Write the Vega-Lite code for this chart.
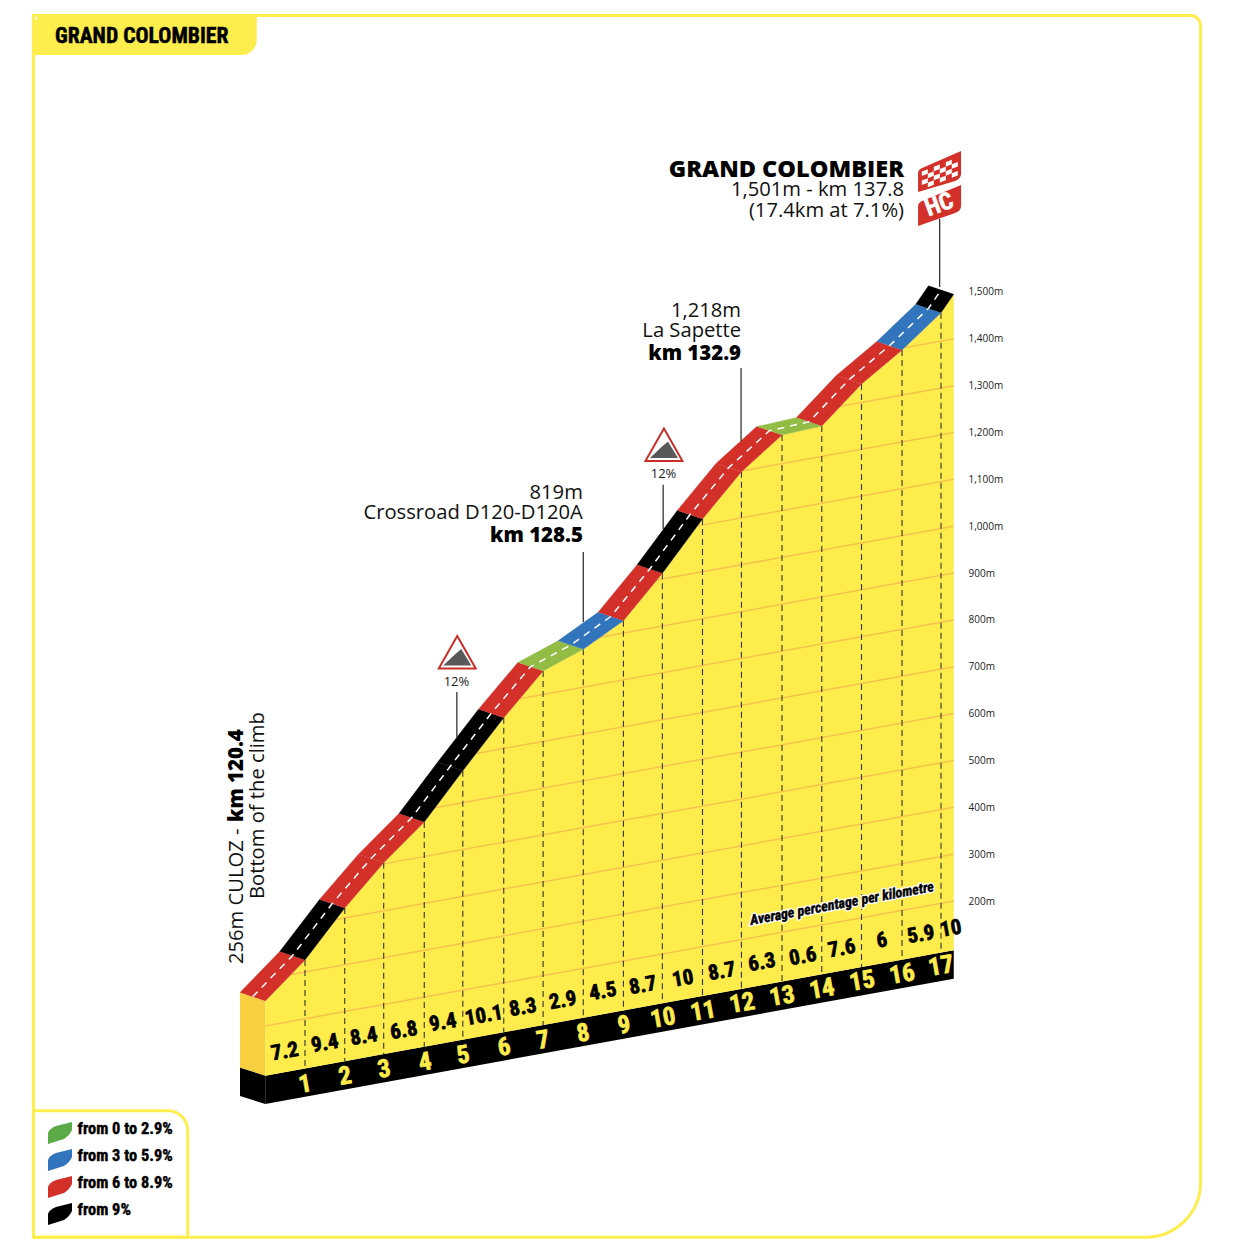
{
"$schema":"https://vega.github.io/schema/vega-lite/v6.json",
"autosize":{"type":"fit","contains":"padding"},
"width":1234,"height":1252,"padding":0,
"background":"white",
"config":{"view":{"stroke":null},"text":{"font":"Open Sans"}},
"resolve":{"scale":{"fill":"independent"}},
"datasets":{
"ridge":[
{"k":0,"m":-13.4,"m2":-172.9,"t":0},{"k":1,"m":74.1,"m2":-157.4,"t":1},{"k":2,"m":185.1,"m2":-142,"t":2},{"k":2.98,"m":281.8,"m2":-126.8,"t":3},{"k":4,"m":368.6,"m2":-111,"t":4},{"k":4.97,"m":478.2,"m2":-96,"t":5},{"k":6,"m":591.3,"m2":-80.1,"t":6},{"k":6.99,"m":691,"m2":-64.8,"t":7},{"k":8,"m":737.3,"m2":-49.2,"t":8},{"k":9.01,"m":798.3,"m2":-33.6,"t":9},{"k":9.99,"m":899.5,"m2":-18.5,"t":10},{"k":11,"m":1015.4,"m2":-2.8,"t":11},{"k":11.98,"m":1116.3,"m2":12.3,"t":12},{"k":13,"m":1194.7,"m2":28.1,"t":13},{"k":14,"m":1213.9,"m2":43.5,"t":14},{"k":15,"m":1303.6,"m2":59,"t":15},{"k":16.02,"m":1376.1,"m2":74.8,"t":16},{"k":17,"m":1455.7,"m2":89.9,"t":17},{"k":17.32,"m":1495,"m2":94.9,"t":0}
],
"road":[
{"s":0,"c":"6-8.9","o":1,"k":0,"m":-13.4},{"s":0,"c":"6-8.9","o":2,"k":1,"m":74.1},{"s":0,"c":"6-8.9","o":3,"k":0.365,"m":92.1},{"s":0,"c":"6-8.9","o":4,"k":-0.635,"m":4.6},
{"s":1,"c":"9+","o":1,"k":1,"m":74.1},{"s":1,"c":"9+","o":2,"k":2,"m":185.1},{"s":1,"c":"9+","o":3,"k":1.365,"m":203.1},{"s":1,"c":"9+","o":4,"k":0.365,"m":92.1},
{"s":2,"c":"6-8.9","o":1,"k":2,"m":185.1},{"s":2,"c":"6-8.9","o":2,"k":2.98,"m":281.8},{"s":2,"c":"6-8.9","o":3,"k":2.345,"m":299.8},{"s":2,"c":"6-8.9","o":4,"k":1.365,"m":203.1},
{"s":3,"c":"6-8.9","o":1,"k":2.98,"m":281.8},{"s":3,"c":"6-8.9","o":2,"k":4,"m":368.6},{"s":3,"c":"6-8.9","o":3,"k":3.365,"m":386.6},{"s":3,"c":"6-8.9","o":4,"k":2.345,"m":299.8},
{"s":4,"c":"9+","o":1,"k":4,"m":368.6},{"s":4,"c":"9+","o":2,"k":4.97,"m":478.2},{"s":4,"c":"9+","o":3,"k":4.335,"m":496.2},{"s":4,"c":"9+","o":4,"k":3.365,"m":386.6},
{"s":5,"c":"9+","o":1,"k":4.97,"m":478.2},{"s":5,"c":"9+","o":2,"k":6,"m":591.3},{"s":5,"c":"9+","o":3,"k":5.365,"m":609.3},{"s":5,"c":"9+","o":4,"k":4.335,"m":496.2},
{"s":6,"c":"6-8.9","o":1,"k":6,"m":591.3},{"s":6,"c":"6-8.9","o":2,"k":6.99,"m":691},{"s":6,"c":"6-8.9","o":3,"k":6.355,"m":709},{"s":6,"c":"6-8.9","o":4,"k":5.365,"m":609.3},
{"s":7,"c":"0-2.9","o":1,"k":6.99,"m":691},{"s":7,"c":"0-2.9","o":2,"k":8,"m":737.3},{"s":7,"c":"0-2.9","o":3,"k":7.365,"m":755.3},{"s":7,"c":"0-2.9","o":4,"k":6.355,"m":709},
{"s":8,"c":"3-5.9","o":1,"k":8,"m":737.3},{"s":8,"c":"3-5.9","o":2,"k":9.01,"m":798.3},{"s":8,"c":"3-5.9","o":3,"k":8.375,"m":816.3},{"s":8,"c":"3-5.9","o":4,"k":7.365,"m":755.3},
{"s":9,"c":"6-8.9","o":1,"k":9.01,"m":798.3},{"s":9,"c":"6-8.9","o":2,"k":9.99,"m":899.5},{"s":9,"c":"6-8.9","o":3,"k":9.355,"m":917.5},{"s":9,"c":"6-8.9","o":4,"k":8.375,"m":816.3},
{"s":10,"c":"9+","o":1,"k":9.99,"m":899.5},{"s":10,"c":"9+","o":2,"k":11,"m":1015.4},{"s":10,"c":"9+","o":3,"k":10.365,"m":1033.4},{"s":10,"c":"9+","o":4,"k":9.355,"m":917.5},
{"s":11,"c":"6-8.9","o":1,"k":11,"m":1015.4},{"s":11,"c":"6-8.9","o":2,"k":11.98,"m":1116.3},{"s":11,"c":"6-8.9","o":3,"k":11.345,"m":1134.3},{"s":11,"c":"6-8.9","o":4,"k":10.365,"m":1033.4},
{"s":12,"c":"6-8.9","o":1,"k":11.98,"m":1116.3},{"s":12,"c":"6-8.9","o":2,"k":13,"m":1194.7},{"s":12,"c":"6-8.9","o":3,"k":12.365,"m":1212.7},{"s":12,"c":"6-8.9","o":4,"k":11.345,"m":1134.3},
{"s":13,"c":"0-2.9","o":1,"k":13,"m":1194.7},{"s":13,"c":"0-2.9","o":2,"k":14,"m":1213.9},{"s":13,"c":"0-2.9","o":3,"k":13.365,"m":1231.9},{"s":13,"c":"0-2.9","o":4,"k":12.365,"m":1212.7},
{"s":14,"c":"6-8.9","o":1,"k":14,"m":1213.9},{"s":14,"c":"6-8.9","o":2,"k":15,"m":1303.6},{"s":14,"c":"6-8.9","o":3,"k":14.365,"m":1321.6},{"s":14,"c":"6-8.9","o":4,"k":13.365,"m":1231.9},
{"s":15,"c":"6-8.9","o":1,"k":15,"m":1303.6},{"s":15,"c":"6-8.9","o":2,"k":16.02,"m":1376.1},{"s":15,"c":"6-8.9","o":3,"k":15.385,"m":1394.1},{"s":15,"c":"6-8.9","o":4,"k":14.365,"m":1321.6},
{"s":16,"c":"3-5.9","o":1,"k":16.02,"m":1376.1},{"s":16,"c":"3-5.9","o":2,"k":17,"m":1455.7},{"s":16,"c":"3-5.9","o":3,"k":16.365,"m":1473.7},{"s":16,"c":"3-5.9","o":4,"k":15.385,"m":1394.1},
{"s":17,"c":"9+","o":1,"k":17,"m":1455.7},{"s":17,"c":"9+","o":2,"k":17.32,"m":1495},{"s":17,"c":"9+","o":3,"k":16.685,"m":1513},{"s":17,"c":"9+","o":4,"k":16.365,"m":1473.7}
]
},
"encoding":{
"x":{"field":"k","type":"quantitative","scale":{"domain":[-6.673,24.371],"nice":false,"zero":false},"axis":null},
"y":{"field":"m","type":"quantitative","scale":{"domain":[-549.2,2123.2],"nice":false,"zero":false},
"axis":{"orient":"right","offset":-266,"title":null,"grid":false,"domain":false,"ticks":false,"labelPadding":0,"labelFontSize":10,"labelFont":"Open Sans","labelColor":"#222","values":[200,300,400,500,600,700,800,900,1000,1100,1200,1300,1400,1500],"labelExpr":"format(datum.value,',')+'m'"}}
},
"layer":[
{"data":{"values":[{"k":-5.83,"k2":23.53,"m":2090.1,"m2":-517.8}]},
 "mark":{"type":"rect","fill":"#ffffff","fillOpacity":0,"stroke":"#FDEE4E","strokeWidth":3,"cornerRadiusTopRight":10,"cornerRadiusBottomRight":55},
 "encoding":{"x2":{"field":"k2"},"y2":{"field":"m2"}}},
{"data":{"values":[{"k":-5.83,"k2":-1.95,"m":-247.6,"m2":-517.8}]},
 "mark":{"type":"rect","fill":"#ffffff","fillOpacity":0,"stroke":"#FDEE4E","strokeWidth":3,"cornerRadiusTopRight":20},
 "encoding":{"x2":{"field":"k2"},"y2":{"field":"m2"}}},
{"data":{"values":[{"k":-5.86,"k2":-0.215,"m":2093.3,"m2":2005.8}]},
 "mark":{"type":"rect","fill":"#FDEE4E","cornerRadiusTopLeft":15,"cornerRadiusBottomRight":15},
 "encoding":{"x2":{"field":"k2"},"y2":{"field":"m2"}}},
{"data":{"values":[{"k":-5.29,"m":2031.4,"label":"GRAND COLOMBIER"}]},
 "mark":{"type":"text","font":"Roboto Condensed, Open Sans Condensed, DejaVu Sans Condensed, Roboto","fontWeight":"bold","fontSize":21.7,"align":"left","baseline":"alphabetic","color":"#000","stroke":"#000","strokeWidth":0.5},
 "encoding":{"text":{"field":"label"}}},
{"data":{"values":[{"k":-0.635,"m":4.6,"m2":-155.8},{"k":0,"m":-13.4,"m2":-172.9}]},
 "mark":{"type":"area","color":"#F9CF42"},"encoding":{"y2":{"field":"m2"}}},
{"data":{"values":[{"k":-0.635,"m":-155.8,"m2":-216.2},{"k":0,"m":-172.9,"m2":-233.3}]},
 "mark":{"type":"area","color":"#000"},"encoding":{"y2":{"field":"m2"}}},
{"data":{"values":[{"k":0,"m":-172.9,"m2":-233.3},{"k":17.32,"m":94.8,"m2":34.1}]},
 "mark":{"type":"area","color":"#000"},"encoding":{"y2":{"field":"m2"}}},
{"data":{"name":"ridge"},"mark":{"type":"area","color":"#FDEC4C"},"encoding":{"y2":{"field":"m2"}}},
{"data":{"values":[
{"k":0,"m":-66.7,"k2":17.32,"m2":200},{"k":0.648,"m":43.3,"k2":17.32,"m2":300},{"k":1.78,"m":160.7,"k2":17.32,"m2":400},{"k":2.948,"m":278.7,"k2":17.32,"m2":500},{"k":4.27,"m":399.1,"k2":17.32,"m2":600},{"k":5.305,"m":515,"k2":17.32,"m2":700},{"k":6.403,"m":631.9,"k2":17.32,"m2":800},{"k":8.427,"m":763.1,"k2":17.32,"m2":900},{"k":9.849,"m":885,"k2":17.32,"m2":1000},{"k":10.87,"m":1000.7,"k2":17.32,"m2":1100},{"k":11.98,"m":1117.8,"k2":17.32,"m2":1200},{"k":14.47,"m":1256,"k2":17.32,"m2":1300},{"k":16.08,"m":1380.9,"k2":17.32,"m2":1400}
]},
 "mark":{"type":"rule","stroke":"#F7C24E","strokeWidth":1.5},
 "encoding":{"x2":{"field":"k2"},"y2":{"field":"m2"}}},
{"data":{"name":"ridge"},"transform":[{"filter":"datum.t>0"}],
 "mark":{"type":"rule","stroke":"#333","strokeWidth":1.1,"strokeDash":[6,4]},
 "encoding":{"y2":{"field":"m2"}}},
{"data":{"name":"road"},
 "mark":{"type":"line","filled":true,"strokeWidth":0.4,"fillOpacity":1},
 "encoding":{
  "detail":{"field":"s"},
  "order":{"field":"o","type":"quantitative"},
  "fill":{"field":"c","type":"nominal","legend":null,"scale":{"domain":["0-2.9","3-5.9","6-8.9","9+"],"range":["#93BC46","#3275BC","#D3302A","#000000"]}},
  "stroke":{"field":"c","type":"nominal","legend":null,"scale":{"domain":["0-2.9","3-5.9","6-8.9","9+"],"range":["#93BC46","#3275BC","#D3302A","#000000"]}}
 }},
{"data":{"values":[
{"k":-0.318,"m":-4.4},{"k":0.682,"m":83.1},{"k":1.682,"m":194.1},{"k":2.662,"m":290.8},{"k":3.682,"m":377.6},{"k":4.652,"m":487.2},{"k":5.682,"m":600.3},{"k":6.672,"m":700},{"k":7.682,"m":746.3},{"k":8.692,"m":807.3},{"k":9.672,"m":908.5},{"k":10.682,"m":1024.4},{"k":11.662,"m":1125.3},{"k":12.682,"m":1203.7},{"k":13.682,"m":1222.9},{"k":14.682,"m":1312.6},{"k":15.702,"m":1385.1},{"k":16.682,"m":1464.7},{"k":17.002,"m":1504}
]},
 "mark":{"type":"line","stroke":"#ffffff","strokeWidth":1.5,"strokeDash":[7,6]}},
{"data":{"values":[
{"k":16.967,"m":1655.7,"m2":1510.6},{"k":11.97,"m":1337.7,"m2":1181.9},{"k":8.0,"m":945,"m2":795.5},{"k":4.82,"m":646.1,"m2":550},{"k":10.01,"m":1088.6,"m2":994}
]},
 "mark":{"type":"rule","stroke":"#222","strokeWidth":1.2},"encoding":{"y2":{"field":"m2"}}},
{"data":{"values":[{"k":4.83,"m":731.7},{"k":10.03,"m":1174.4}]},
 "mark":{"type":"point","filled":true,"size":4,"opacity":1,"fill":"#ffffff","stroke":"#C93028","strokeWidth":2,"shape":"M0,-16L18.5,16.5L-18.5,16.5Z"}},
{"data":{"values":[{"k":4.83,"m":731.7},{"k":10.03,"m":1174.4}]},
 "mark":{"type":"point","filled":true,"size":4,"opacity":1,"fill":"#595959","strokeWidth":0,"shape":"M4,-3L14,13.5L-14,13.5L-3,3Z"}},
{"data":{"values":[{"k":16.977,"m":1758.2}]},
 "mark":{"type":"point","filled":true,"size":4,"opacity":1,"fill":"#D3302A","strokeWidth":0,"shape":"M-22,21L-22,2Q-22,-1 -18,-3L21,-20L21,3Q21,7 15,10Z"}},
{"data":{"values":[{"k":16.977,"m":1758.2}]},
 "mark":{"type":"point","filled":true,"size":4,"opacity":1,"fill":"#ffffff","strokeWidth":0,"shape":"M-18.3,0.5l6,-2.34v4.5l-6,2.34zM-6.3,-4.18l6,-2.34v4.5l-6,2.34zM5.7,-8.86l6,-2.34v4.5l-6,2.34zM-12.3,2.66l6,-2.34v4.5l-6,2.34zM-0.3,-2.02l6,-2.34v4.5l-6,2.34zM11.7,-6.7l6,-2.34v4.5l-6,2.34zM-18.3,9.5l6,-2.34v4.5l-6,2.34zM-6.3,4.82l6,-2.34v4.5l-6,2.34zM5.7,0.14l6,-2.34v4.5l-6,2.34zM-12.3,11.66l6,-2.34v4.5l-6,2.34zM-0.3,6.98l6,-2.34v4.5l-6,2.34zM11.7,2.3l6,-2.34v4.5l-6,2.34z"}},
{"data":{"values":[{"k":16.977,"m":1685.6}]},
 "mark":{"type":"point","filled":true,"size":4,"opacity":1,"fill":"#D3302A","strokeWidth":0,"shape":"M-22,21L-22,1Q-22,-2 -18,-4L21,-20L21,1Q21,6 15,8Z"}},
{"data":{"values":[{"k":16.96,"m":1685.6,"label":"HC"}]},
 "mark":{"type":"text","font":"Roboto Condensed, Open Sans Condensed, DejaVu Sans Condensed, Roboto","fontWeight":"bold","fontSize":24,"color":"#fff","stroke":"#fff","strokeWidth":0.5,"angle":340,"align":"center","baseline":"middle"},
 "encoding":{"text":{"field":"label"}}},
{"data":{"values":[{"k":16.07,"m":1745.4,"label":"GRAND COLOMBIER"}]},
 "mark":{"type":"text","fontSize":23.5,"fontWeight":800,"align":"right","baseline":"alphabetic","color":"#000"},
 "encoding":{"text":{"field":"label"}}},
{"data":{"values":[{"k":11.97,"m":1354.8,"label":"km 132.9"},{"k":7.99,"m":966.3,"label":"km 128.5"}]},
 "mark":{"type":"text","fontSize":20.4,"fontWeight":800,"align":"right","baseline":"alphabetic","color":"#000"},
 "encoding":{"text":{"field":"label"}}},
{"data":{"values":[{"k":16.07,"m":1704.8,"label":"1,501m - km 137.8"},{"k":16.07,"m":1660,"label":"(17.4km at 7.1%)"},{"k":11.97,"m":1446.6,"label":"1,218m"},{"k":11.97,"m":1403.9,"label":"La Sapette"},{"k":7.99,"m":1058.1,"label":"819m"},{"k":7.99,"m":1015.4,"label":"Crossroad D120-D120A"}]},
 "mark":{"type":"text","fontSize":20.2,"align":"right","baseline":"alphabetic","color":"#111"},
 "encoding":{"text":{"field":"label"}}},
{"data":{"values":[{"k":-0.56,"m":65.5,"label":"256m CULOZ -"},{"k":-0.03,"m":204.3,"label":"Bottom of the climb"}]},
 "mark":{"type":"text","fontSize":20.2,"angle":270,"align":"left","baseline":"alphabetic","color":"#111"},
 "encoding":{"text":{"field":"label"}}},
{"data":{"values":[{"k":-0.56,"m":368.6,"label":"km 120.4"}]},
 "mark":{"type":"text","fontSize":20.4,"fontWeight":800,"angle":270,"align":"left","baseline":"alphabetic","color":"#000"},
 "encoding":{"text":{"field":"label"}}},
{"data":{"values":[{"k":4.81,"m":658.9,"label":"12%"},{"k":10.02,"m":1102.9,"label":"12%"}]},
 "mark":{"type":"text","fontSize":13,"align":"center","baseline":"alphabetic","color":"#222"},
 "encoding":{"text":{"field":"label"}}},
{"data":{"values":[
{"k":0.497,"m":-122.3,"label":"7.2"},{"k":1.503,"m":-105.2,"label":"9.4"},{"k":2.484,"m":-90.3,"label":"8.4"},{"k":3.491,"m":-77.5,"label":"6.8"},{"k":4.472,"m":-60.4,"label":"9.4"},{"k":5.503,"m":-45.5,"label":"10.1"},{"k":6.484,"m":-28.4,"label":"8.3"},{"k":7.491,"m":-13.4,"label":"2.9"},{"k":8.497,"m":5.8,"label":"4.5"},{"k":9.503,"m":18.6,"label":"8.7"},{"k":10.509,"m":33.5,"label":"10"},{"k":11.491,"m":48.5,"label":"8.7"},{"k":12.497,"m":67.7,"label":"6.3"},{"k":13.528,"m":80.5,"label":"0.6"},{"k":14.509,"m":97.6,"label":"7.6"},{"k":15.516,"m":114.6,"label":"6"},{"k":16.497,"m":127.4,"label":"5.9"},{"k":17.252,"m":140.3,"label":"10"}
]},
 "mark":{"type":"text","font":"Roboto Condensed, Open Sans Condensed, DejaVu Sans Condensed, Roboto","fontWeight":"bold","fontSize":21,"angle":350,"align":"center","baseline":"middle","color":"#000","stroke":"#000","strokeWidth":0.7},
 "encoding":{"text":{"field":"label"}}},
{"data":{"values":[
{"k":1.0,"m":-190.6,"label":"1"},{"k":2.006,"m":-173.5,"label":"2"},{"k":2.987,"m":-158.6,"label":"3"},{"k":4.019,"m":-143.6,"label":"4"},{"k":4.975,"m":-128.7,"label":"5"},{"k":6.006,"m":-111.6,"label":"6"},{"k":6.987,"m":-96.7,"label":"7"},{"k":7.994,"m":-81.8,"label":"8"},{"k":9.025,"m":-64.7,"label":"9"},{"k":10.006,"m":-49.7,"label":"10"},{"k":11.013,"m":-34.8,"label":"11"},{"k":11.994,"m":-17.7,"label":"12"},{"k":13.0,"m":-2.8,"label":"13"},{"k":14.006,"m":12.2,"label":"14"},{"k":15.013,"m":29.3,"label":"15"},{"k":16.019,"m":44.2,"label":"16"},{"k":17.0,"m":61.3,"label":"17"}
]},
 "mark":{"type":"text","font":"Roboto Condensed, Open Sans Condensed, DejaVu Sans Condensed, Roboto","fontWeight":"bold","fontSize":25,"angle":350,"align":"center","baseline":"middle","color":"#FDEC4C","stroke":"#FDEC4C","strokeWidth":0.7},
 "encoding":{"text":{"field":"label"}}},
{"data":{"values":[{"k":14.51,"m":193.6,"label":"Average percentage per kilometre"}]},
 "mark":{"type":"text","font":"Roboto Condensed, Open Sans Condensed, DejaVu Sans Condensed, Roboto","fontWeight":"bold","fontStyle":"italic","fontSize":14.2,"angle":349.5,"align":"center","baseline":"middle","color":"#fff","stroke":"#fff","strokeWidth":3},
 "encoding":{"text":{"field":"label"}}},
{"data":{"values":[{"k":14.51,"m":193.6,"label":"Average percentage per kilometre"}]},
 "mark":{"type":"text","font":"Roboto Condensed, Open Sans Condensed, DejaVu Sans Condensed, Roboto","fontWeight":"bold","fontStyle":"italic","fontSize":14.2,"angle":349.5,"align":"center","baseline":"middle","color":"#000","stroke":"#000","strokeWidth":0.4},
 "encoding":{"text":{"field":"label"}}},
{"data":{"values":[{"k":-5.164,"m":-295.2,"c":"from 0 to 2.9%"},{"k":-5.164,"m":-352.9,"c":"from 3 to 5.9%"},{"k":-5.164,"m":-410.4,"c":"from 6 to 8.9%"},{"k":-5.164,"m":-468,"c":"from 9%"}]},
 "mark":{"type":"point","filled":true,"size":4,"opacity":1,"strokeWidth":0,"shape":"M-12,11L-12,0Q-11,-4 -4,-7L12,-11L12,-3Q10,2 4,6Z"},
 "encoding":{"fill":{"field":"c","type":"nominal","legend":null,"scale":{"domain":["from 0 to 2.9%","from 3 to 5.9%","from 6 to 8.9%","from 9%"],"range":["#5BAA47","#3275BC","#D3302A","#000000"]}}}},
{"data":{"values":[{"k":-4.723,"m":-297.5,"label":"from 0 to 2.9%"},{"k":-4.723,"m":-355.2,"label":"from 3 to 5.9%"},{"k":-4.723,"m":-412.8,"label":"from 6 to 8.9%"},{"k":-4.723,"m":-470.4,"label":"from 9%"}]},
 "mark":{"type":"text","font":"Roboto Condensed, Open Sans Condensed, DejaVu Sans Condensed, Roboto","fontWeight":"bold","fontSize":16.4,"align":"left","baseline":"alphabetic","color":"#000","stroke":"#000","strokeWidth":0.4},
 "encoding":{"text":{"field":"label"}}}
]
}
